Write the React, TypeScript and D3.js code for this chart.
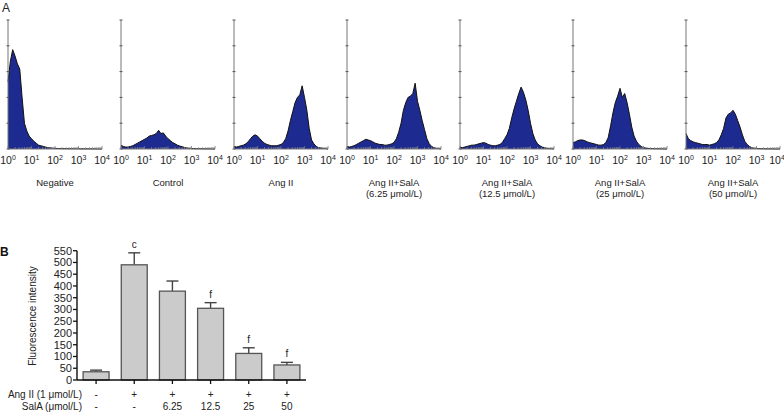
import React from "react";
import * as d3 from "d3";

// ---------- Panel A data (flow cytometry histograms, log10 channel 0..4 step 0.1, % of axis height) ----------
const histTitles: string[][] = [
  ["Negative"],
  ["Control"],
  ["Ang II"],
  ["Ang II+SalA", "(6.25 μmol/L)"],
  ["Ang II+SalA", "(12.5 μmol/L)"],
  ["Ang II+SalA", "(25 μmol/L)"],
  ["Ang II+SalA", "(50 μmol/L)"],
];
const histNegative = [52, 68, 77, 72, 66, 62, 40, 20, 14, 10, 8, 6, 4.5, 3, 2.5, 2, 1.5, 1, 1, 0.6, 0.5, 0.4, 0.4, 0.3, 0.3, 0.3, 0.2, 0.2, 0.2, 0.2, 0.2, 0.1, 0.1, 0.1, 0.1, 0.1, 0.1, 0.1, 0, 0, 0];
const histControl = [3, 2, 1.5, 1.5, 2, 2.5, 3.5, 4.5, 5.5, 6.5, 7.5, 8.5, 10, 10.5, 11, 12, 14.5, 12, 12.5, 10, 8, 6.5, 5, 4, 3, 2.3, 1.8, 1.2, 0.8, 0.5, 0.3, 0.3, 0.2, 0.2, 0.2, 0.1, 0.1, 0.1, 0.1, 0, 0];
const histAngII = [2, 1.5, 2, 2.5, 3, 4, 5.5, 8, 10, 11, 10, 8, 6, 4.5, 3.5, 3, 2.5, 2.5, 2.5, 3, 3.5, 5, 8, 14, 22, 29, 36, 40, 42, 49, 40, 30, 16, 7, 4, 2, 1, 0.8, 0.5, 0.3, 0];
const hist625 = [2, 1.5, 2, 2.5, 3.5, 4.5, 5.5, 6.5, 7.5, 7, 6.5, 5.5, 4.5, 4, 3.5, 3.5, 3, 3, 3.5, 4, 5, 8, 13, 20, 30, 36, 40, 41, 43, 51, 37, 30, 22, 15, 8, 4, 2, 1, 0.5, 0.3, 0];
const hist125 = [1.5, 1, 1.5, 2, 2.5, 3, 3, 3.5, 4, 4.5, 5, 4.5, 3.5, 3, 2.5, 2.5, 3, 3.5, 5, 8, 11, 16, 24, 31, 37, 43, 48, 44, 38, 30, 20, 12, 7, 4, 2.5, 1.5, 1, 0.5, 0.3, 0.2, 0];
const hist25 = [5, 5.5, 6.5, 7, 7, 6.5, 5.5, 5, 4.5, 4, 3.5, 3, 3, 3.5, 5, 9, 18, 28, 36, 41, 47, 40, 43, 36, 27, 17, 10, 6, 3.5, 2, 1, 0.7, 0.5, 0.3, 0.3, 0.2, 0.2, 0.1, 0.1, 0, 0];
const hist50 = [12, 8, 6.5, 5.5, 5, 4.5, 4, 3.5, 3.5, 3.5, 3, 3.5, 4, 5, 7, 11, 16, 24, 27, 28, 30, 27, 22, 17, 11, 6, 3.5, 2, 1, 0.6, 0.4, 0.3, 0.2, 0.2, 0.1, 0.1, 0.1, 0.1, 0, 0, 0];
const histSeries = [histNegative, histControl, histAngII, hist625, hist125, hist25, hist50];
const decades = [0, 1, 2, 3, 4];

// ---------- Panel B data ----------
const groups = ["g1", "g2", "g3", "g4", "g5", "g6"];
const meanValues = [35, 490, 378, 305, 113, 64];
const semValues = [7, 51, 43, 24, 24, 11];
const sigLabels = ["", "c", "", "f", "f", "f"];
const angIIRow = ["-", "+", "+", "+", "+", "+"];
const salARow = ["-", "-", "6.25", "12.5", "25", "50"];
const yTicksB = d3.range(0, 551, 50);

const FONT = "'Liberation Sans', Arial, sans-serif";

function Histogram({ values, left, title }: { values: number[]; left: number; title: string[] }) {
  const w = 94;
  const top = 20;
  const bottom = 149;
  const x = d3.scaleLinear().domain([0, 4]).range([left, left + w]);
  const y = d3.scaleLinear().domain([0, 100]).range([bottom, top]);
  const pts = values.map((v, i) => [i * 0.1, v] as [number, number]);
  const area = d3.area<[number, number]>().x((d) => x(d[0])).y0(bottom).y1((d) => y(d[1]));
  const line = d3.line<[number, number]>().x((d) => x(d[0])).y((d) => y(d[1]));
  const minor: number[] = [];
  for (let dd = 0; dd < 4; dd++) for (let k = 2; k <= 9; k++) minor.push(dd + Math.log10(k));
  return (
    <g>
      <path d={area(pts) || ""} fill="#1d2a8f" />
      <path d={line(pts) || ""} fill="none" stroke="#111" strokeWidth={1} />
      <line x1={left} x2={left} y1={top} y2={bottom} stroke="#777" strokeWidth={1} />
      <line x1={left} x2={left + w} y1={bottom} y2={bottom} stroke="#777" strokeWidth={1} />
      {y.ticks(4).map((t) => (
        <line key={t} x1={left - 1.5} x2={left + 1.5} y1={y(t)} y2={y(t)} stroke="#555" strokeWidth={1} />
      ))}
      {minor.map((m, i) => (
        <line key={i} x1={x(m)} x2={x(m)} y1={bottom} y2={bottom - 2} stroke="#888" strokeWidth={0.7} />
      ))}
      {decades.map((dd) => (
        <line key={"d" + dd} x1={x(dd)} x2={x(dd)} y1={bottom} y2={bottom - 3} stroke="#777" strokeWidth={0.8} />
      ))}
      {decades.map((dd) => {
        const px = Math.min(x(dd), 777);
        return (
          <text key={"t" + dd} x={px} y={164} textAnchor="middle" fontSize={10.5} fill="#222" fontFamily={FONT}>
            10
            <tspan dy={-4} fontSize={7}>{dd}</tspan>
          </text>
        );
      })}
      {title.map((t, i) => (
        <text key={i} x={left + w / 2} y={186 + i * 11} textAnchor="middle" fontSize={9.5} fill="#222" fontFamily={FONT}>
          {t}
        </text>
      ))}
    </g>
  );
}

export default function App() {
  const panelLeft = d3.scaleLinear().domain([0, 6]).range([8, 686]);

  const xB = d3.scaleBand<string>().domain(groups).range([77, 306]).paddingInner(0.32).paddingOuter(0.16);
  const yB = d3.scaleLinear().domain([0, 550]).range([380, 250.7]);
  const cx = (g: string) => (xB(g) || 0) + xB.bandwidth() / 2;

  return (
    <svg width={784} height={413} style={{ position: "absolute", left: 0, top: 0, background: "#fff" }} fontFamily={FONT}>
      <text x={2} y={12} fontSize={12} fill="#222">A</text>
      {histSeries.map((vals, i) => (
        <Histogram key={i} values={vals} left={panelLeft(i)} title={histTitles[i]} />
      ))}

      <text x={0} y={256} fontSize={12} fill="#111" fontWeight="bold">B</text>
      {groups.map((g, i) => {
        const top = yB(meanValues[i] + semValues[i]);
        return (
          <g key={g}>
            <line x1={cx(g)} x2={cx(g)} y1={yB(meanValues[i])} y2={top} stroke="#444" strokeWidth={1.4} />
            <line x1={cx(g) - 6} x2={cx(g) + 6} y1={top} y2={top} stroke="#444" strokeWidth={1.4} />
            <rect
              x={xB(g)}
              y={yB(meanValues[i])}
              width={xB.bandwidth()}
              height={380 - yB(meanValues[i])}
              fill="#cbcbcb"
              stroke="#555"
              strokeWidth={1.3}
            />
            {sigLabels[i] && (
              <text x={cx(g)} y={top - 5} textAnchor="middle" fontSize={10} fill="#222">
                {sigLabels[i]}
              </text>
            )}
            <line x1={cx(g)} x2={cx(g)} y1={380} y2={384} stroke="#111" strokeWidth={1.3} />
            <text x={cx(g)} y={398} textAnchor="middle" fontSize={10} fill="#222">{angIIRow[i]}</text>
            <text x={cx(g)} y={410} textAnchor="middle" fontSize={10} fill="#222">{salARow[i]}</text>
          </g>
        );
      })}
      <line x1={77} x2={77} y1={250.7} y2={380} stroke="#111" strokeWidth={1.4} />
      <line x1={77} x2={306} y1={380} y2={380} stroke="#111" strokeWidth={1.4} />
      {yTicksB.map((t) => (
        <g key={t}>
          <line x1={73} x2={77} y1={yB(t)} y2={yB(t)} stroke="#111" strokeWidth={1.3} />
          <text x={72} y={yB(t) + 4} textAnchor="end" fontSize={11} fill="#222">{t}</text>
        </g>
      ))}
      <text transform="translate(36,316) rotate(-90)" textAnchor="middle" fontSize={10} fill="#222">
        Fluorescence intensity
      </text>
      <text x={82} y={398} textAnchor="end" fontSize={10} fill="#222">Ang II (1 μmol/L)</text>
      <text x={82} y={410} textAnchor="end" fontSize={10} fill="#222">SalA (μmol/L)</text>
    </svg>
  );
}
